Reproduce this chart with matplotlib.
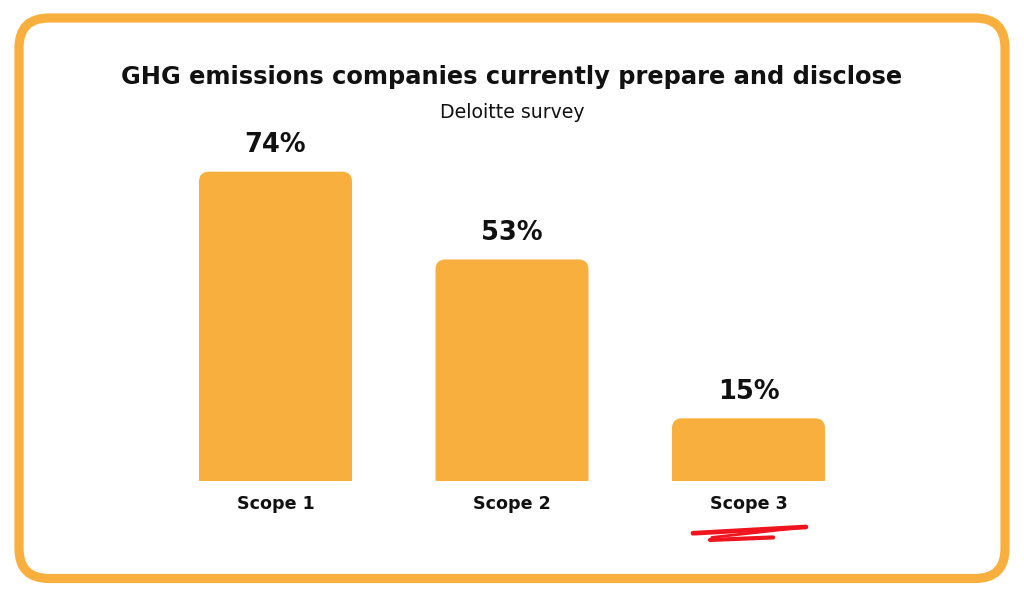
"""
Bar chart: GHG emissions companies currently prepare and disclose (Deloitte survey).
"""

import matplotlib.pyplot as plt
from matplotlib.patches import FancyBboxPatch
import numpy as np

# ── Data ─────────────────────────────────────────────────────────────────────
categories = ['Scope 1', 'Scope 2', 'Scope 3']
shares     = [74, 53, 15]
value_text = ['74%', '53%', '15%']

TITLE    = 'GHG emissions companies currently prepare and disclose'
SUBTITLE = 'Deloitte survey'

ORANGE = '#F9AF3D'
INK    = '#111111'
RED    = '#F0141E'

W, H = 1024, 597
fig = plt.figure(figsize=(W / 100, H / 100), dpi=100)
fig.patch.set_facecolor('white')

# ── Background axes in pixel coordinates (frame + headings) ─────────────────
bg = fig.add_axes([0, 0, 1, 1])
bg.set_xlim(0, W)
bg.set_ylim(H, 0)
bg.axis('off')

frame = FancyBboxPatch((19, 18), 986, 560.5,
                       boxstyle='round,pad=0,rounding_size=30',
                       facecolor='white', edgecolor=ORANGE, linewidth=6.6)
bg.add_patch(frame)

bg.text(W / 2, 77, TITLE, ha='center', va='center',
        fontsize=17.4, fontweight='heavy', color=INK)
bg.text(W / 2, 113, SUBTITLE, ha='center', va='center',
        fontsize=13.6, color=INK)

# ── Bar axes ────────────────────────────────────────────────────────────────
# x: centres at 275.5 / 512 / 748.5 px, y: 0 at 481 px, 100 at 63 px
px_per_cat = 236.5
left_px = 275.5 - 0.5 * px_per_cat
width_px = 3 * px_per_cat
ax = fig.add_axes([left_px / W, (H - 481) / H, width_px / W, 418 / H])
ax.set_xlim(-0.5, 2.5)
ax.set_ylim(0, 100)
ax.axis('off')

bar_w = 153 / px_per_cat
px_per_pct = 418 / 100
radius_x = 10 / px_per_cat
aspect = (10 / px_per_pct) / radius_x

x = np.arange(len(categories))
for xi, v, lab, cat in zip(x, shares, value_text, categories):
    bar = FancyBboxPatch((xi - bar_w / 2, -20), bar_w, v + 20,
                         boxstyle=f'round,pad=0,rounding_size={radius_x}',
                         mutation_aspect=aspect,
                         facecolor=ORANGE, edgecolor='none')
    ax.add_patch(bar)
    bar.set_clip_path(ax.patch)
    ax.text(xi, v + 6.4, lab, ha='center', va='center',
            fontsize=18.5, fontweight='bold', color=INK)
    ax.text(xi, -5.5, cat, ha='center', va='center',
            fontsize=12.6, fontweight='bold', color=INK, clip_on=False)

# red marker scribble under the last category (offsets from the bar centre)
cx = x[-1]
strokes = [
    ([-0.235, 0.243], [-12.5, -11.0], 3.4),
    ([0.243, -0.155], [-11.0, -13.5], 2.0),
    ([-0.163, 0.104], [-14.1, -13.5], 3.0),
]
for sx, sy, lw in strokes:
    ax.plot(cx + np.array(sx), sy, color=RED, linewidth=lw,
            solid_capstyle='round', clip_on=False)

fig.savefig('out.png', dpi=100, facecolor='white')
plt.close(fig)
